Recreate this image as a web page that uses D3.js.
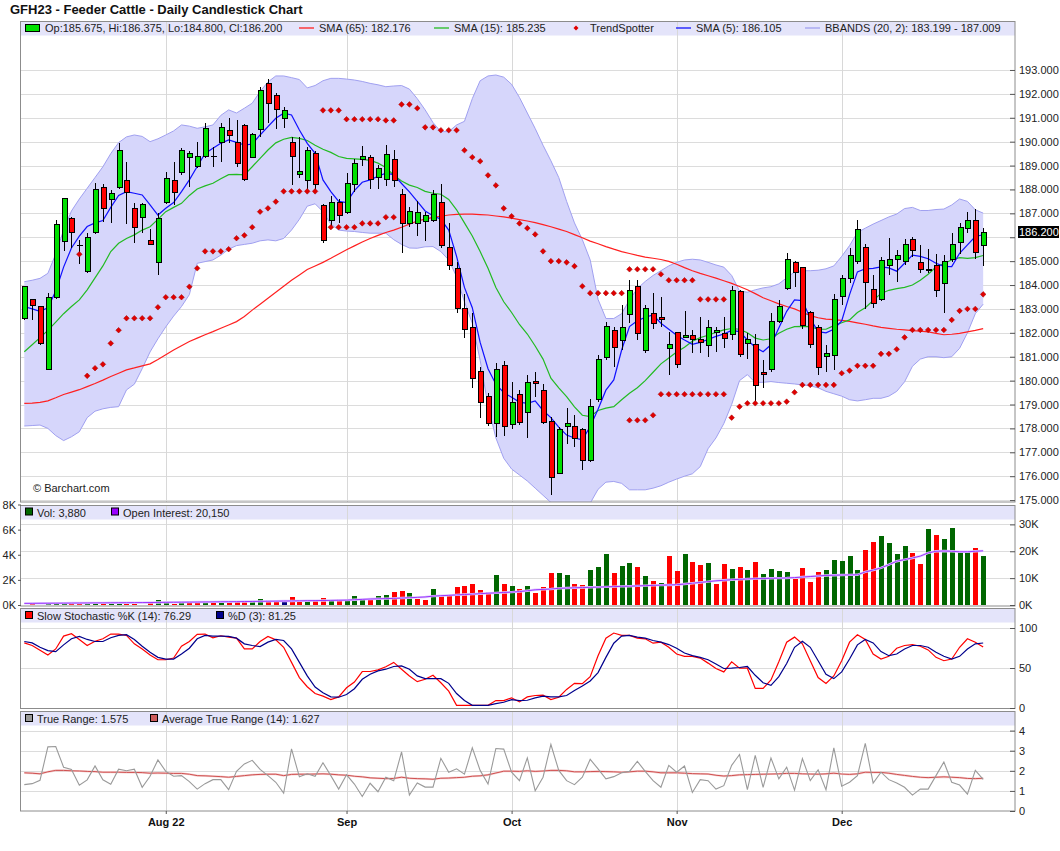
<!DOCTYPE html>
<html>
<head>
<meta charset="utf-8">
<script src="https://d3js.org/d3.v7.min.js"></script>
<style>
  body { margin: 0; background: #fff; }
</style>
</head>
<body>
<div id="chart"></div>
<script>
const _ = null;

// x axis months (index of first trading day, label)
const monthIdx = [18, 41, 62, 83, 104];
const monthLabels = ["Aug 22", "Sep", "Oct", "Nov", "Dec"];

// daily prices, Jul 6 2022 .. Dec 2022
const opens = [182.60,183.38,183.10,180.45,183.49,185.82,186.79,185.65,184.56,186.19,
188.09,187.59,188.09,188.37,187.21,186.84,185.85,184.95,187.45,188.37,
188.70,189.33,188.96,189.37,189.37,189.97,190.46,189.97,190.68,189.35,
190.52,192.44,191.95,190.98,189.97,188.63,188.37,189.51,187.32,186.72,
187.45,187.03,188.22,189.26,189.33,188.51,188.40,189.26,187.77,186.58,
186.58,186.65,186.70,187.45,185.58,184.70,183.03,182.23,180.38,179.33,
178.19,180.63,178.15,179.43,178.68,179.96,179.58,178.29,176.12,178.10,
178.08,177.97,176.64,179.23,180.98,182.09,181.67,182.78,183.93,181.26,
182.82,182.65,181.35,182.01,181.81,181.88,181.73,181.47,182.02,181.98,
181.91,183.75,181.56,181.52,180.35,180.48,182.47,183.86,184.95,184.74,
182.85,182.23,181.03,181.07,183.54,184.28,184.98,185.58,183.82,183.40,
184.80,185.08,184.98,185.92,184.95,184.63,184.81,184.07,185.08,185.79,
186.38,186.70,185.675];
const highs = [183.95,183.40,183.12,183.66,186.72,187.65,186.86,185.89,186.17,188.26,
188.23,187.98,189.96,189.16,187.45,187.45,186.33,187.03,188.72,189.14,
189.72,189.62,190.00,190.80,189.76,190.80,190.98,190.90,190.74,190.38,
192.30,192.62,192.02,191.47,190.21,190.18,189.76,189.62,187.39,187.73,
187.59,188.70,189.26,189.82,189.44,189.03,189.86,189.65,188.00,187.28,
187.52,187.07,187.98,188.23,186.58,184.98,183.61,182.85,180.59,179.47,
180.73,180.80,179.96,179.61,180.24,180.34,179.86,178.47,178.05,178.84,
178.56,178.00,179.22,181.07,182.47,182.26,183.17,184.19,184.21,183.17,
183.66,183.52,182.05,182.05,182.93,182.12,182.68,182.54,182.26,182.65,
183.96,183.79,182.01,181.95,180.87,182.82,183.38,185.36,185.02,184.77,
182.90,182.33,181.49,183.61,184.42,185.54,186.72,185.72,184.42,185.19,
185.96,185.47,185.92,186.00,185.68,185.51,185.29,185.26,186.17,186.58,
187.04,187.18,186.375];
const lows = [182.55,182.55,181.50,180.45,183.40,185.44,185.54,184.90,184.50,186.15,
186.65,186.61,188.00,186.56,185.78,186.19,185.68,184.42,187.40,187.35,
188.60,188.09,188.89,189.30,188.96,189.13,189.93,188.96,188.37,189.30,
190.18,190.77,190.52,190.56,188.19,188.47,187.91,187.88,185.78,186.38,
186.58,186.97,187.91,188.98,188.00,188.00,188.15,188.12,185.36,186.42,
186.07,185.86,186.65,185.54,184.63,182.85,181.77,179.68,178.43,178.12,
177.63,177.70,177.97,178.15,177.59,179.30,178.19,175.22,176.10,177.35,
177.21,176.26,176.60,179.12,180.87,180.59,181.28,182.40,181.70,181.15,
182.15,182.26,180.24,180.52,181.77,181.15,181.15,181.00,181.21,181.35,
181.70,181.00,180.89,179.12,179.68,180.34,182.40,183.79,183.93,182.15,
181.35,180.24,180.35,180.45,183.17,184.10,184.88,182.99,183.03,183.35,
184.42,184.11,184.84,185.19,184.52,184.52,183.52,182.85,184.98,185.29,
186.17,185.09,184.80];
const closes = [183.93,183.13,181.56,183.49,186.54,187.63,186.19,185.65,186.00,187.98,
187.21,187.84,189.61,187.88,186.42,187.39,185.71,186.79,188.47,187.88,
189.61,189.51,189.37,190.56,189.37,190.60,190.25,189.09,188.43,190.31,
192.16,191.58,191.33,191.30,189.37,188.77,189.65,188.22,185.86,187.45,
186.93,188.26,189.09,189.37,188.40,188.89,189.47,188.36,186.58,187.07,
187.03,186.93,187.77,185.65,184.81,183.03,182.15,180.10,179.10,178.22,
180.45,178.08,179.08,178.26,179.92,179.86,178.26,175.96,177.94,178.22,
177.56,176.64,178.91,180.89,182.26,181.40,182.23,183.79,181.98,183.03,
182.40,182.54,181.52,180.66,181.88,181.73,181.59,182.23,182.09,181.77,
183.79,181.10,181.73,179.78,180.24,182.47,183.10,185.08,184.53,182.30,
181.52,180.56,181.15,183.40,184.28,185.23,186.33,184.11,183.24,185.02,
185.08,185.22,185.71,185.43,184.66,184.63,183.79,184.98,185.71,186.40,
186.70,185.37,186.20];

// overlays
const sma65 = [179.05,179.06,179.09,179.15,179.28,179.42,179.52,179.62,179.75,179.88,
180.02,180.17,180.31,180.45,180.53,180.62,180.70,180.88,181.08,181.28,
181.46,181.64,181.78,181.92,182.05,182.19,182.33,182.47,182.68,182.95,
183.20,183.45,183.70,183.95,184.20,184.42,184.65,184.80,184.95,185.12,
185.30,185.48,185.64,185.80,185.95,186.08,186.20,186.30,186.42,186.55,
186.68,186.76,186.83,186.88,186.93,186.96,186.97,186.97,186.95,186.93,
186.89,186.85,186.80,186.74,186.68,186.61,186.53,186.44,186.34,186.24,
186.11,185.98,185.84,185.73,185.61,185.50,185.40,185.32,185.24,185.17,
185.12,185.07,184.99,184.87,184.73,184.60,184.49,184.39,184.29,184.18,
184.07,183.94,183.80,183.64,183.47,183.34,183.21,183.10,183.00,182.86,
182.72,182.63,182.57,182.55,182.52,182.48,182.42,182.36,182.29,182.23,
182.19,182.15,182.12,182.09,182.07,182.04,181.98,181.92,181.94,181.98,
182.04,182.10,182.176];
const sma15 = [181.21,181.50,181.80,182.10,182.45,182.80,183.10,183.38,183.80,184.30,
184.80,185.40,185.75,185.95,186.10,186.30,186.44,186.75,187.07,187.25,
187.42,187.75,188.02,188.15,188.26,188.45,188.62,188.63,188.61,188.95,
189.30,189.65,189.95,190.10,190.18,190.14,190.05,189.85,189.68,189.55,
189.38,189.30,189.28,189.26,189.22,189.10,188.92,188.60,188.35,188.18,
188.08,187.92,187.84,187.80,187.58,187.15,186.60,186.05,185.40,184.70,
183.90,183.30,182.85,182.35,181.95,181.45,180.90,180.10,179.70,179.33,
178.90,178.55,178.49,178.75,178.85,178.91,179.20,179.47,179.70,180.00,
180.35,180.70,180.95,181.20,181.40,181.65,181.80,181.90,182.02,182.12,
182.18,182.15,182.00,181.78,181.70,181.75,181.98,182.15,182.26,182.27,
182.26,182.15,182.15,182.30,182.42,182.54,182.85,183.05,183.35,183.65,
183.78,183.85,183.90,184.00,184.20,184.45,184.75,184.90,185.05,185.15,
185.12,185.15,185.235];
const sma5 = [183.10,183.00,182.90,183.05,183.75,184.75,185.55,186.05,186.45,186.60,
186.70,187.25,187.75,187.91,187.84,187.77,187.35,186.93,187.21,187.45,
187.91,188.40,188.96,189.51,189.72,189.93,190.07,189.97,189.86,189.90,
190.28,190.63,190.98,191.19,191.12,190.49,189.93,189.51,188.40,187.91,
187.50,187.45,187.95,188.30,188.40,188.55,188.68,188.62,188.25,187.90,
187.50,187.10,186.90,186.75,186.30,185.20,183.90,183.05,181.60,180.50,
179.85,179.50,179.30,179.10,179.05,179.15,178.75,178.45,178.05,177.72,
177.60,177.52,178.08,178.80,179.60,180.03,181.28,182.26,182.50,182.65,
182.75,182.40,182.15,181.90,181.70,181.52,181.60,181.72,181.85,181.95,
182.10,182.05,181.70,181.40,181.21,181.50,182.20,182.90,183.38,183.35,
182.60,182.05,182.00,182.15,182.50,183.60,184.55,184.68,184.70,184.76,
184.72,184.58,184.91,185.25,185.20,185.10,184.91,184.78,184.77,185.33,
185.68,186.03,186.105];
const bbUpper = [184.14,184.20,184.28,184.49,185.30,186.30,187.10,187.60,188.05,188.50,
188.95,189.50,189.96,190.20,190.28,190.22,190.00,190.12,190.28,190.45,
190.70,190.65,190.56,190.62,190.70,191.10,191.33,191.20,191.40,191.61,
192.10,192.50,192.75,192.75,192.68,192.60,192.25,192.35,192.55,192.65,
192.65,192.62,192.58,192.52,192.44,192.38,192.30,192.33,192.35,192.20,
191.80,191.33,190.80,190.42,190.42,190.70,190.85,191.80,192.55,192.75,
192.79,192.70,192.40,191.85,191.20,190.55,189.85,189.20,188.50,187.50,
186.60,185.90,185.05,183.40,182.60,182.60,182.80,183.38,183.85,184.15,
184.40,184.60,184.80,184.95,185.05,185.08,185.05,184.95,184.84,184.75,
184.40,183.75,183.70,183.80,183.88,183.93,184.05,184.30,184.55,184.60,
184.60,184.62,184.68,184.80,185.20,185.65,186.20,186.38,186.55,186.70,
186.85,186.97,187.20,187.25,187.12,187.12,187.16,187.18,187.35,187.60,
187.50,187.15,187.009];
const bbLower = [178.10,178.12,178.14,178.00,177.70,177.49,177.65,177.86,178.45,178.72,
178.82,178.88,178.91,179.61,179.85,180.50,181.20,181.75,182.25,182.70,
183.10,183.60,184.91,184.98,185.05,185.25,185.50,185.65,185.70,185.75,
185.85,185.89,185.85,185.95,186.30,186.75,187.30,187.40,187.07,186.55,
186.30,186.26,186.24,186.20,186.17,186.17,186.17,185.90,185.70,185.55,
185.54,185.60,185.61,185.40,185.05,184.35,183.30,182.40,180.85,178.95,
177.60,176.75,176.30,176.05,175.80,175.50,175.20,174.90,174.70,174.65,
174.65,174.75,174.87,175.45,175.75,175.78,175.70,175.43,175.43,175.43,
175.50,175.60,175.75,175.88,176.00,176.10,176.40,177.15,177.60,178.20,
179.00,180.00,180.25,179.92,179.93,179.96,179.92,179.89,179.86,179.82,
179.78,179.70,179.55,179.45,179.35,179.20,179.15,179.20,179.26,179.26,
179.35,179.55,179.95,180.60,180.90,181.00,181.00,180.96,181.00,181.35,
182.00,182.80,183.199];
const trendHigh = [_,_,_,_,_,_,_,_,_,_,
_,_,_,_,_,_,_,_,_,_,
_,_,_,_,_,_,_,_,_,_,
_,_,_,_,_,_,_,_,191.31,191.31,
191.31,190.94,190.94,190.94,190.94,190.94,190.89,190.89,191.56,191.56,
191.40,190.60,190.60,190.48,190.48,190.48,189.64,189.35,189.18,188.59,
188.17,187.21,186.88,186.58,186.38,186.12,185.41,185.00,185.00,184.95,
184.79,183.95,183.66,183.66,183.66,183.66,183.66,184.66,184.66,184.66,
184.66,184.45,184.20,184.20,184.20,184.20,183.40,183.40,183.40,183.40,
_,_,_,_,_,_,_,_,_,_,
_,_,_,_,_,_,_,_,_,_,
_,_,_,_,_,_,_,_,_,_,
_,_,_];
const trendLow = [_,_,_,_,_,_,_,185.29,180.20,180.52,
180.68,181.56,182.11,182.61,182.61,182.61,182.61,183.07,183.49,183.49,
183.49,183.93,184.70,185.41,185.41,185.41,185.50,185.96,186.08,186.42,
187.07,187.21,187.49,187.92,187.92,187.92,187.92,187.92,_,186.42,
186.42,186.42,186.42,186.58,186.58,186.58,186.84,186.84,_,_,
_,_,_,_,_,_,_,_,_,_,
_,_,_,_,_,_,_,_,_,_,
_,_,_,_,_,_,_,178.34,178.34,178.34,
178.55,179.43,179.43,179.43,179.43,179.43,179.43,179.43,179.43,179.43,
178.45,178.91,179.05,179.05,179.05,179.05,179.05,179.12,179.51,179.82,
179.82,179.82,179.82,179.82,180.31,180.42,180.62,180.62,180.62,181.12,
181.12,181.31,181.81,182.12,182.12,182.12,182.12,182.12,182.54,182.92,
183.00,183.00,183.61];

// volume and open interest
const volume = [20,100,20,100,260,180,180,100,100,260,
260,180,180,100,100,20,260,370,210,100,
240,180,260,340,340,260,260,260,240,260,
450,370,370,370,610,290,290,290,530,290,
450,450,690,450,450,690,760,1000,1080,920,
450,370,1240,760,690,1400,1550,1710,1160,1000,
2350,1710,1480,1240,1480,920,1400,2580,2580,2420,
1710,1630,2820,3060,4080,2580,3140,3370,3060,2270,
1950,1790,3930,2740,4080,3450,3210,3370,1710,3290,
2900,3060,2820,3450,2500,2900,2740,2660,2030,2980,
1870,2660,2820,3610,3530,3930,2820,4400,5030,5510,
4950,4080,4720,4160,3290,6060,5590,5270,6140,4320,
4240,4560,3880];
// u = close up, d = close down, n = unchanged
const volumeDir = "udduuudduu" + "duudduduud" + "uddududddu" + "uddndduddu" + "duuuduuddu" +
  "dduddddddd" + "udududdduu" + "dduuuduudu" + "dudduddudd" + "ududuuuudd" +
  "dduuuuuddu" + "uuudduduuu" + "udu";
const openInterest = [600,620,640,660,680,700,720,740,760,780,
800,820,840,860,880,900,920,950,1000,1020,
1050,1080,1100,1130,1160,1190,1220,1250,1280,1320,
1360,1400,1440,1480,1510,1550,1590,1630,1670,1720,
1760,1820,1950,2100,2230,2300,2380,2460,2580,2700,
2850,3000,3300,3450,3600,3750,3900,4050,4200,4400,
4500,4650,4800,5000,5300,5650,5800,5950,6200,6300,
6400,6500,6580,6650,6750,6850,6950,7000,7100,7200,
7300,7400,7450,7550,7800,8100,8400,8700,9000,9200,
9400,9550,9700,9800,9850,9950,10000,10050,10200,10400,
10600,10800,11000,11100,11150,11200,11250,12300,13000,13800,
15000,16300,16900,17500,18200,19400,20000,20100,20000,19800,
19800,20000,20150];

// slow stochastic
const stochK = [81.4,78.1,72.2,66.2,73.8,89.9,92.8,85.7,78.1,83.5,
86.5,92.4,92.4,90.7,80.2,73.8,66.2,60.3,60.3,62.4,
77.2,83.1,92.0,92.4,87.8,90.3,88.6,87.3,73.8,73.8,
83.1,89.5,85.2,75.9,57.0,38.0,26.6,18.1,14.8,10.5,
13.9,25.3,32.5,45.6,45.6,47.7,51.5,57.0,48.5,40.1,
32.9,35.9,40.9,31.6,21.1,3.4,3.4,3.4,3.4,3.4,
9.3,9.3,12.7,7.6,13.9,15.6,16.0,10.5,13.5,23.2,
30.8,30.4,39.2,65.4,87.3,93.7,90.7,90.7,87.3,86.5,
81.0,82.3,75.9,67.5,64.6,64.6,62.4,56.1,49.4,45.1,
57.8,49.8,49.8,24.5,24.5,35.0,57.8,82.3,88.6,80.2,
59.1,38.0,30.8,40.1,59.1,82.3,91.6,85.7,67.5,61.2,
64.6,74.7,78.1,79.3,77.2,72.6,63.3,59.1,61.2,75.9,
86.5,82.3,76.29];
const stochD = [83.1,81.4,75.9,71.7,70.5,78.9,86.5,89.5,85.7,83.1,
83.1,87.8,90.7,91.6,85.7,77.2,69.6,63.3,61.2,61.2,
67.5,74.7,86.5,90.7,89.9,89.9,89.5,87.3,80.2,78.1,
76.8,82.3,85.7,84.4,73.8,57.0,40.1,26.2,19.0,13.9,
13.5,16.9,24.1,35.9,42.2,46.4,48.5,51.9,52.7,48.5,
40.1,36.7,36.7,36.7,30.8,18.1,9.3,3.4,3.4,3.4,
5.5,7.2,10.5,9.3,9.7,12.7,14.8,13.9,13.9,15.6,
21.9,27.4,33.8,44.3,63.3,81.0,89.9,90.7,88.6,87.3,
84.4,82.3,79.3,74.7,68.8,65.4,63.3,60.3,54.9,49.4,
49.8,50.6,51.9,40.9,31.6,28.3,39.2,55.7,75.9,83.5,
75.9,59.1,42.2,36.7,45.1,61.2,78.9,85.7,81.4,70.5,
65.4,67.5,73.8,78.1,78.1,75.9,69.6,64.6,61.2,64.6,
73.8,80.2,81.25];

// true range / average true range
const trueRange = [1.31,1.36,1.53,3.19,3.21,2.18,2.07,1.28,1.55,2.24,
1.55,1.33,2.08,2.00,2.08,1.18,1.73,2.54,1.97,1.73,
1.76,1.46,1.09,1.36,1.56,1.56,1.06,1.97,2.34,2.52,
2.07,1.76,1.43,0.89,3.09,1.70,1.85,1.73,2.40,1.76,
1.09,1.80,1.34,0.72,1.38,0.96,1.68,1.50,2.94,0.79,
1.39,1.19,1.19,2.62,1.93,2.10,1.83,3.14,2.02,1.34,
3.11,3.08,1.93,1.51,2.64,1.01,1.68,3.31,2.02,1.51,
1.31,1.68,2.57,2.10,1.60,1.71,1.90,1.97,2.47,1.97,
1.51,1.18,2.27,1.93,2.24,0.92,1.56,1.51,1.09,1.26,
2.27,2.81,1.06,2.77,1.18,2.64,1.60,2.18,1.04,2.61,
1.51,2.05,1.06,3.14,1.23,1.43,1.76,3.36,1.39,1.93,
1.56,1.39,1.18,0.79,1.09,1.09,1.76,2.44,1.43,1.29,
0.84,2.02,1.575];
const avgTrueRange = [1.90,1.88,1.85,1.95,2.02,2.02,2.00,1.99,1.97,1.96,
1.93,1.93,1.93,1.92,1.92,1.91,1.88,1.89,1.88,1.87,
1.87,1.83,1.76,1.75,1.73,1.71,1.68,1.72,1.76,1.80,
1.82,1.83,1.83,1.76,1.82,1.83,1.83,1.84,1.85,1.83,
1.80,1.78,1.73,1.70,1.65,1.63,1.61,1.62,1.68,1.63,
1.61,1.60,1.58,1.63,1.64,1.66,1.68,1.73,1.75,1.80,
1.89,1.98,1.98,1.97,2.00,1.97,1.99,2.02,2.02,2.00,
1.95,1.95,1.96,1.97,1.96,1.95,1.93,1.95,1.98,1.98,
1.95,1.90,1.90,1.90,1.88,1.86,1.85,1.84,1.78,1.74,
1.76,1.80,1.81,1.82,1.83,1.84,1.85,1.87,1.87,1.85,
1.84,1.83,1.85,1.88,1.84,1.82,1.85,1.93,1.92,1.92,
1.88,1.82,1.77,1.72,1.68,1.66,1.68,1.70,1.68,1.66,
1.62,1.61,1.627];

// tick values
const priceTicks = d3.range(175, 194);
const volTicks = [0, 2000, 4000, 6000, 8000];
const oiTicks = [0, 10000, 20000, 30000];
const stochTicks = [0, 50, 100];
const atrTicks = [0, 1, 2, 3, 4];

// ---------------------------------------------------------------
const FONT = '"Liberation Sans", Arial, Helvetica, sans-serif';
const W = 1060, H = 851, L = 21, R = 1015;
const n = closes.length, last = n - 1;
const f3 = d3.format(".3f"), fK = d => (d / 1000) + "K", fc = d3.format(",");

const svg = d3.select("#chart").append("svg")
  .attr("width", W).attr("height", H)
  .style("font-family", FONT);
svg.append("rect").attr("width", W).attr("height", H).attr("fill", "#fff");

const x = d3.scaleLinear().domain([-0.42, 126.05]).range([L, R]);
const yP = d3.scaleLinear().domain([174.92, 195.05]).range([502, 21]);
const yV = d3.scaleLinear().domain([0, 8000]).range([605, 504.5]);
const yOI = d3.scaleLinear().domain([0, 30000]).range([605, 524.4]);
const yS = d3.scaleLinear().domain([0, 100]).range([708, 628]);
const yA = d3.scaleLinear().domain([0, 4]).range([811, 730.6]);

const px = i => Math.round(x(i)) + 0.5;
const lineOf = ys => d3.line().defined(d => d != null).x((d, i) => x(i)).y(d => ys(d));

svg.append("text").attr("x", 10).attr("y", 13.5)
  .attr("font-size", 13).attr("font-weight", "bold").attr("fill", "#111")
  .text("GFH23 - Feeder Cattle - Daily Candlestick Chart");

function makePanel(top, bottom, gridScale, gridTicks) {
  const id = "clip" + Math.round(top);
  svg.append("clipPath").attr("id", id).append("rect")
    .attr("x", L).attr("y", top).attr("width", R - L).attr("height", bottom - top);
  const g = svg.append("g");
  g.append("rect").attr("x", L).attr("y", top).attr("width", R - L).attr("height", 14.5)
    .attr("fill", "#e4e4fa");
  g.selectAll(null).data(gridTicks).join("line")
    .attr("x1", L).attr("x2", R)
    .attr("y1", d => Math.round(gridScale(d)) + 0.5).attr("y2", d => Math.round(gridScale(d)) + 0.5)
    .attr("stroke", "#dcdcdc");
  g.selectAll(null).data(monthIdx).join("line")
    .attr("x1", d => px(d)).attr("x2", d => px(d))
    .attr("y1", top).attr("y2", bottom)
    .attr("stroke", "#d8d8d8");
  const data = svg.append("g").attr("clip-path", `url(#${id})`);
  const over = svg.append("g");
  over.append("rect").attr("x", L - 0.5).attr("y", top + 0.5)
    .attr("width", R - L + 0.5).attr("height", bottom - top - 0.5)
    .attr("fill", "none").attr("stroke", "#8c8c8c");
  return { data, over };
}

function rightAxis(g, scale, ticks, fmt) {
  const ax = g.append("g").attr("transform", `translate(${R},0)`)
    .call(d3.axisRight(scale).tickValues(ticks).tickFormat(fmt)
      .tickSizeInner(-5).tickSizeOuter(0).tickPadding(4));
  ax.select(".domain").remove();
  ax.attr("font-size", 11).attr("font-family", FONT).attr("color", "#555");
  ax.selectAll("text").attr("fill", "#222");
  return ax;
}

function legendItem(g, x0, yBase, kind, color, label) {
  if (kind === "line") {
    g.append("line").attr("x1", x0).attr("x2", x0 + 15).attr("y1", yBase - 4).attr("y2", yBase - 4)
      .attr("stroke", color).attr("stroke-width", 1.3);
  } else if (kind === "box") {
    g.append("rect").attr("x", x0 + 0.5).attr("y", yBase - 8.5).attr("width", 7).attr("height", 7)
      .attr("fill", color).attr("stroke", "#000");
  } else if (kind === "diamond") {
    g.append("path").attr("d", "M0,-2.5L2.5,0L0,2.5L-2.5,0Z")
      .attr("transform", `translate(${x0 + 6},${yBase - 4})`).attr("fill", color);
  }
  g.append("text").attr("x", x0 + (kind === "box" ? 12 : 20)).attr("y", yBase)
    .attr("font-size", 11).attr("fill", "#222").text(label);
}

// ---------------- main price panel ----------------
const main = makePanel(21, 502, yP, priceTicks);
const md = main.data;

md.append("path").datum(bbUpper)
  .attr("d", d3.area().x((d, i) => x(i)).y0((d, i) => yP(bbLower[i])).y1(d => yP(d)))
  .attr("fill", "#d6d6fb");
md.append("path").datum(bbUpper).attr("d", lineOf(yP)).attr("fill", "none").attr("stroke", "#a0a0f0");
md.append("path").datum(bbLower).attr("d", lineOf(yP)).attr("fill", "none").attr("stroke", "#a0a0f0");
md.append("path").datum(sma65).attr("d", lineOf(yP)).attr("fill", "none").attr("stroke", "#ff2020").attr("stroke-width", 1.2);
md.append("path").datum(sma15).attr("d", lineOf(yP)).attr("fill", "none").attr("stroke", "#22bb22").attr("stroke-width", 1.2);
md.append("path").datum(sma5).attr("d", lineOf(yP)).attr("fill", "none").attr("stroke", "#1010ff").attr("stroke-width", 1.2);

const cg = md.append("g").attr("shape-rendering", "crispEdges");
const idx = d3.range(n);
cg.selectAll(".wick").data(idx).join("line")
  .attr("x1", px).attr("x2", px)
  .attr("y1", i => yP(highs[i])).attr("y2", i => yP(lows[i]))
  .attr("stroke", "#000");
cg.selectAll(".body").data(idx.filter(i => opens[i] !== closes[i])).join("rect")
  .attr("x", i => Math.round(x(i)) - 2).attr("width", 5)
  .attr("y", i => yP(Math.max(opens[i], closes[i])))
  .attr("height", i => Math.max(1, yP(Math.min(opens[i], closes[i])) - yP(Math.max(opens[i], closes[i]))))
  .attr("fill", i => closes[i] > opens[i] ? "#00e000" : "#ff0000")
  .attr("stroke", "#000");
cg.selectAll(".doji").data(idx.filter(i => opens[i] === closes[i])).join("line")
  .attr("x1", i => Math.round(x(i)) - 2.5).attr("x2", i => Math.round(x(i)) + 3.5)
  .attr("y1", i => yP(closes[i])).attr("y2", i => yP(closes[i]))
  .attr("stroke", "#000").attr("stroke-width", 1.5);

const diamond = "M0,-2.8L2.8,0L0,2.8L-2.8,0Z";
[trendHigh, trendLow].forEach(series => {
  md.append("g").selectAll("path").data(idx.filter(i => series[i] != null)).join("path")
    .attr("d", diamond)
    .attr("transform", i => `translate(${x(i)},${yP(series[i])})`)
    .attr("fill", "#e00000").attr("stroke", "#a00000").attr("stroke-width", 0.5);
});

main.over.append("text").attr("x", 33).attr("y", 492).attr("font-size", 11).attr("fill", "#222")
  .text("\u00a9 Barchart.com");
const pax = rightAxis(main.over, yP, priceTicks, f3);
// the last-price box covers the tick label it sits on
pax.selectAll(".tick text").filter(d => Math.abs(yP(d) - yP(closes[last])) < 10).remove();
main.over.append("rect").attr("x", 1018).attr("y", Math.round(yP(closes[last])) - 6)
  .attr("width", 41).attr("height", 12).attr("fill", "#000");
main.over.append("text").attr("x", 1019).attr("y", yP(closes[last]) + 4)
  .attr("font-size", 11).attr("fill", "#fff").text(f3(closes[last]));

const lg = main.over;
lg.append("rect").attr("x", 25.5).attr("y", 24.5).attr("width", 14).attr("height", 7)
  .attr("fill", "#00e000").attr("stroke", "#000");
lg.append("text").attr("x", 45).attr("y", 32).attr("font-size", 11).attr("fill", "#222")
  .text(`Op:${f3(opens[last])}, Hi:${f3(highs[last])}, Lo:${f3(lows[last])}, Cl:${f3(closes[last])}`);
legendItem(lg, 299, 32, "line", "#ff2020", `SMA (65): ${f3(sma65[last])}`);
legendItem(lg, 434, 32, "line", "#22bb22", `SMA (15): ${f3(sma15[last])}`);
legendItem(lg, 570, 32, "diamond", "#e00000", "TrendSpotter");
legendItem(lg, 676, 32, "line", "#1010ff", `SMA (5): ${f3(sma5[last])}`);
legendItem(lg, 805, 32, "line", "#a0a0f0", `BBANDS (20, 2): ${f3(bbLower[last])} - ${f3(bbUpper[last])}`);

// ---------------- volume panel ----------------
const vol = makePanel(505, 606, yOI, [10000, 20000, 30000]);
const volColor = { u: "#006600", d: "#ff0000", n: "#000080" };
vol.data.append("g").attr("shape-rendering", "crispEdges")
  .selectAll("rect").data(idx).join("rect")
  .attr("x", i => Math.round(x(i)) - 2).attr("width", 5)
  .attr("y", i => yV(volume[i])).attr("height", i => yV(0) - yV(volume[i]))
  .attr("fill", i => volColor[volumeDir[i]]);
vol.data.append("path").datum(openInterest).attr("d", lineOf(yOI))
  .attr("fill", "none").attr("stroke", "#e2ccff").attr("stroke-width", 2.4);
vol.data.append("path").datum(openInterest).attr("d", lineOf(yOI))
  .attr("fill", "none").attr("stroke", "#9933ff").attr("stroke-width", 1);
rightAxis(vol.over, yOI, oiTicks, fK);
const vax = vol.over.append("g").attr("transform", `translate(${L},0)`)
  .call(d3.axisLeft(yV).tickValues(volTicks).tickFormat(fK).tickSizeInner(3).tickSizeOuter(0).tickPadding(2));
vax.select(".domain").remove();
vax.attr("font-size", 11).attr("font-family", FONT).attr("color", "#555");
vax.selectAll("text").attr("fill", "#222");
legendItem(vol.over, 25, 516.5, "box", "#006600", `Vol: ${fc(volume[last])}`);
legendItem(vol.over, 111, 516.5, "box", "#9900ff", `Open Interest: ${fc(openInterest[last])}`);

// ---------------- stochastic panel ----------------
const sto = makePanel(608, 708.5, yS, [50, 100]);
sto.data.append("path").datum(stochK).attr("d", lineOf(yS))
  .attr("fill", "none").attr("stroke", "#ff0000").attr("stroke-width", 1.2);
sto.data.append("path").datum(stochD).attr("d", lineOf(yS))
  .attr("fill", "none").attr("stroke", "#00008c").attr("stroke-width", 1.2);
rightAxis(sto.over, yS, stochTicks, d3.format("d"));
legendItem(sto.over, 25, 620, "box", "#ff0000", `Slow Stochastic %K (14): ${d3.format(".2f")(stochK[last])}`);
legendItem(sto.over, 216, 620, "box", "#00008c", `%D (3): ${d3.format(".2f")(stochD[last])}`);

// ---------------- ATR panel ----------------
const atr = makePanel(711, 811, yA, [1, 2, 3, 4]);
atr.data.append("path").datum(avgTrueRange).attr("d", lineOf(yA))
  .attr("fill", "none").attr("stroke", "#f4d0d0").attr("stroke-width", 2.2);
atr.data.append("path").datum(avgTrueRange).attr("d", lineOf(yA))
  .attr("fill", "none").attr("stroke", "#d05050").attr("stroke-width", 1);
atr.data.append("path").datum(trueRange).attr("d", lineOf(yA))
  .attr("fill", "none").attr("stroke", "#9a9a9a").attr("stroke-width", 1.1);
rightAxis(atr.over, yA, atrTicks, d3.format("d"));
legendItem(atr.over, 25, 723, "box", "#999999", `True Range: ${f3(trueRange[last])}`);
legendItem(atr.over, 150, 723, "box", "#cd5c5c", `Average True Range (14): ${f3(avgTrueRange[last])}`);

// ---------------- x axis ----------------
const xax = svg.append("g").attr("transform", "translate(0,811)")
  .call(d3.axisBottom(x).tickValues(monthIdx).tickFormat((d, i) => monthLabels[i])
    .tickSizeInner(3).tickSizeOuter(0).tickPadding(4));
xax.select(".domain").remove();
xax.attr("font-size", 11).attr("font-family", FONT).attr("font-weight", "bold").attr("color", "#555");
xax.selectAll("text").attr("fill", "#111");
</script>
</body>
</html>
